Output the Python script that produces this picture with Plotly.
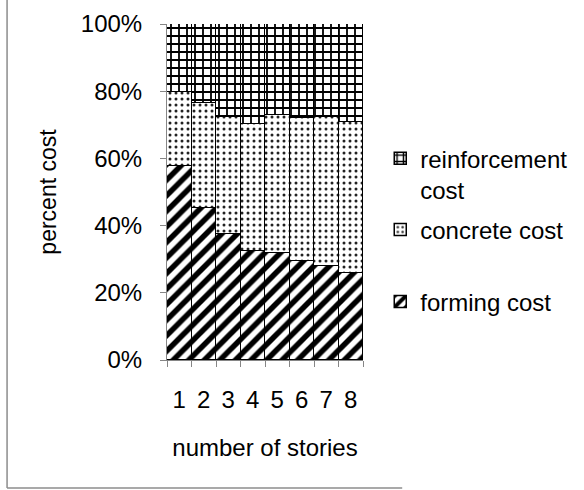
import plotly.graph_objects as go

# share of total cost per building height (in %)
stories = ["1", "2", "3", "4", "5", "6", "7", "8"]
forming_cost = [57.8, 45.1, 37.5, 32.4, 31.7, 29.5, 28.1, 25.8]
concrete_cost = [22.1, 31.3, 34.9, 37.8, 41.2, 42.5, 44.1, 45.0]
reinforcement_cost = [20.1, 23.6, 27.6, 29.8, 27.1, 28.0, 27.8, 29.2]

FONT = "Liberation Sans, Arial, sans-serif"
GREY = "#868686"
TXT = dict(family=FONT, size=24, color="black")

fig = go.Figure()

fig.add_trace(go.Bar(
    x=stories, y=forming_cost, name="forming cost", legend="legend3",
    marker=dict(color="white", line=dict(color="black", width=1.5),
                pattern=dict(shape="/", fgcolor="black", bgcolor="white",
                             fgopacity=1, size=11, solidity=0.5)),
))
fig.add_trace(go.Bar(
    x=stories, y=concrete_cost, name="concrete cost", legend="legend2",
    marker=dict(color="white", line=dict(color="black", width=1.5),
                pattern=dict(shape=".", fgcolor="#222222", bgcolor="white",
                             fgopacity=1, size=6, solidity=0.2)),
))
fig.add_trace(go.Bar(
    x=stories, y=reinforcement_cost, name="reinforcement<br>cost", legend="legend",
    marker=dict(color="white", line=dict(color="black", width=1.5),
                pattern=dict(shape="+", fgcolor="black", bgcolor="white",
                             fgopacity=1, size=8, solidity=0.4)),
))

legend_style = dict(xanchor="left", yanchor="middle", x=1.088, valign="top",
                    font=TXT, bgcolor="rgba(0,0,0,0)")

fig.update_layout(
    width=584, height=490,
    margin=dict(l=167, r=221, t=24, b=130, autoexpand=False),
    barmode="stack", barnorm="percent", bargap=0,
    paper_bgcolor="white", plot_bgcolor="white",
    font=TXT,
    legend=dict(y=0.553, **legend_style),
    legend2=dict(y=0.387, **legend_style),
    legend3=dict(y=0.173, **legend_style),
    xaxis=dict(
        title=dict(text="number of stories", standoff=27, font=TXT),
        tickmode="array", tickvals=stories, tickfont=TXT,
        showline=True, linecolor=GREY, linewidth=1,
        ticks="outside", tickson="boundaries", ticklen=6, tickcolor=GREY,
        ticklabelstandoff=18,
    ),
    yaxis=dict(
        title=dict(text="percent cost", standoff=17, font=dict(family=FONT, size=23, color="black")),
        range=[0, 100], dtick=20, ticksuffix="%", tickfont=TXT,
        showline=True, linecolor=GREY, linewidth=1, showgrid=False,
        ticks="outside", ticklen=6, tickcolor=GREY, ticklabelstandoff=13,
        zeroline=False,
    ),
    showlegend=True,
)

# grey frame around the chart (only left and bottom edges are visible)
fig.add_shape(type="line", xref="paper", yref="paper",
              x0=-0.816, x1=-0.816, y0=-0.381, y1=1.2,
              line=dict(color="#8c8c8c", width=1.5))
fig.add_shape(type="line", xref="paper", yref="paper",
              x0=-0.816, x1=1.2, y0=-0.381, y1=-0.381,
              line=dict(color="#8c8c8c", width=1.5))

# drop the browser's default body margin so the figure sits at the page corner
fig.write_html("out.html", config={"displayModeBar": False},
               post_script="document.body.style.margin='0';")
